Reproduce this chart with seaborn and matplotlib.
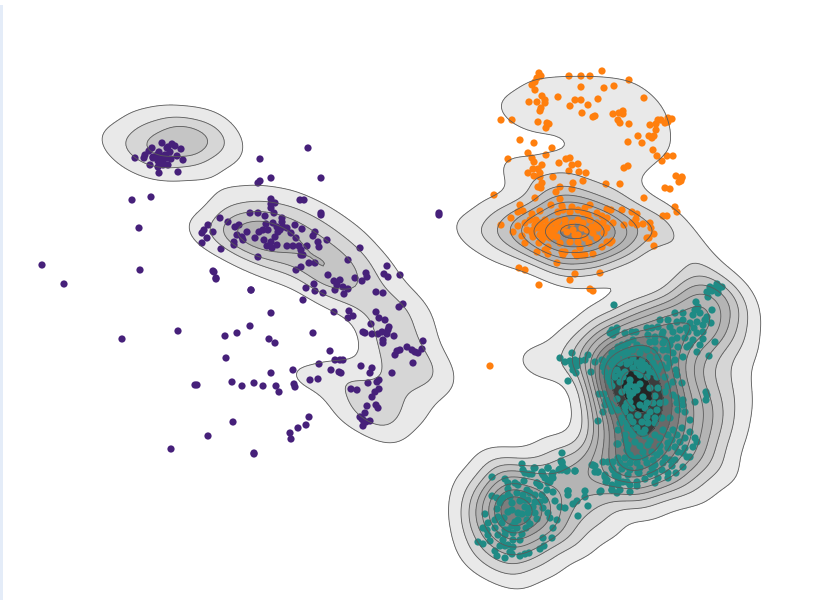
# cluster scatter over a density surface
import pandas as pd
import seaborn as sns
import matplotlib.pyplot as plt
from matplotlib.colors import ListedColormap

# ---------- data ----------
purple_pts = [
    (162,143),(172,144),(175,146),(181,149),(152,148),(149,151),(145,155),(144,158),(135,158),(153,157),
    (159,152),(167,148),(170,152),(165,155),(160,158),(158,161),(163,162),(168,165),(150,165),(158,167),
    (159,173),(178,172),(183,160),(177,156),(171,159),(167,158),(163,165),(168,147),(153,158),(162,157),(157,155),
    (260,159),(258,183),(260,181),(271,178),(132,200),(151,197),(139,228),(140,270),(42,265),(64,284),
    (308,148),(321,178),(214,272),(216,279),(251,290),
    (271,199),(275,203),(271,204),(271,208),(274,213),(250,213),(258,213),(265,216),(282,218),(220,218),
    (228,222),(208,225),(204,230),(202,233),(207,238),(213,232),(202,243),(221,249),(235,227),(239,225),
    (247,232),(237,235),(242,237),(243,240),(234,242),(234,245),(255,238),(259,232),(263,230),(266,224),
    (268,230),(273,223),(277,227),(280,230),(283,227),(287,228),(282,222),(278,232),(275,237),(264,240),
    (271,242),(267,246),(272,248),(277,245),(258,257),(287,246),(293,246),(299,246),(307,246),(301,250),
    (295,225),(302,229),(291,233),(296,238),(300,200),(304,200),(321,213),(321,215),(313,236),(315,232),
    (318,242),(319,247),(327,240),(360,248),(348,260),(301,255),(303,255),(309,263),(315,263),(301,267),
    (296,270),(328,275),(334,281),(340,280),(337,285),(335,290),(343,287),(348,289),(344,294),(314,284),
    (306,288),(315,291),(323,293),(303,300),(355,278),(362,281),(366,273),(367,277),(387,266),(384,274),
    (388,277),(400,275),(376,292),(383,293),(403,304),(399,307),(376,312),(334,312),(349,311),(353,316),
    (348,318),(379,318),(385,320),(371,324),(389,327),(388,330),(382,332),(378,334),(372,334),(363,332),
    (365,333),(387,334),(394,336),(383,340),(383,343),(313,333),(423,341),(407,347),(400,350),(397,351),
    (395,355),(412,350),(415,352),(418,353),(422,349),(413,363),(330,351),(335,360),(340,360),(343,360),
    (319,364),(361,366),(372,368),(370,373),(293,370),(331,370),(339,372),(341,373),(392,373),(271,373),
    (318,379),(310,380),(379,380),(377,382),(368,383),(294,384),(295,387),(276,386),(263,386),(254,383),
    (242,386),(232,382),(195,385),(197,385),(279,392),(351,389),(357,390),(379,389),(375,392),(372,397),
    (367,406),(376,405),(378,408),(360,417),(365,413),(363,420),(370,421),(366,422),(363,426),(362,419),
    (309,417),(306,425),(298,428),(290,433),(291,439),(233,422),(208,436),(213,271),(216,278),(251,290),
    (271,313),(250,326),(237,333),(225,336),(269,339),(275,343),(226,358),(439,213),(439,215),(178,331),
    (122,339),(171,449),(254,454),(254,453),
]

orange_pts = [
    (539,73),(541,76),(537,78),(535,82),(532,85),(535,90),(569,76),(581,76),(590,76),(602,71),(629,80),
    (614,86),(604,88),(581,87),(542,96),(558,97),(545,100),(545,103),(537,102),(529,102),(575,100),(581,100),
    (598,99),(644,98),(588,105),(570,106),(541,108),(540,111),(582,113),(593,117),(595,116),(613,114),
    (619,113),(623,111),(623,114),(618,120),(620,123),(629,124),(501,120),(512,120),(538,122),(547,123),
    (549,124),(546,128),(650,125),(656,124),(658,120),(661,120),(665,123),(668,118),(672,119),(668,122),
    (656,130),(638,136),(649,136),(654,136),(652,138),(642,143),(628,142),(520,140),(534,143),(552,148),
    (528,153),(546,155),(653,150),(657,156),(667,156),(673,156),(662,161),(508,159),(532,158),(534,162),
    (566,159),(570,158),(559,163),(578,164),(572,165),(533,169),(538,169),(542,165),(569,171),(579,172),
    (586,173),(624,168),(628,166),(528,173),(534,176),(540,173),(540,177),(553,177),(676,176),(682,177),
    (682,178),(681,181),(679,182),(542,183),(538,187),(541,188),(560,187),(573,183),(572,189),(583,181),
    (606,184),(620,184),(665,188),(670,189),(556,192),(494,195),(535,198),(560,199),(644,198),(675,207),
    (677,212),(663,216),(667,216),(490,366),
    (520,205),(518,212),(523,211),(511,218),(501,225),(513,232),(522,236),(525,243),(537,252),(519,268),
    (525,270),(557,263),(575,274),(570,280),(600,273),(539,285),(590,289),(593,291),(654,246),(622,210),
    (632,212),(637,214),(636,219),(624,225),(632,223),(637,225),(643,224),(650,223),(651,228),(654,234),
    (649,238),(647,238),(532,214),(540,211),(551,205),(562,206),(572,207),(590,205),(585,208),(607,209),
    (611,210),(558,212),(563,210),(570,212),(578,210),(583,212),(588,215),(597,213),(602,216),(607,218),
    (613,223),(530,220),(525,223),(518,226),(527,230),(532,233),(536,220),(540,223),(545,220),(548,225),
    (553,222),(558,221),(565,220),(572,223),(578,220),(583,223),(590,220),(597,223),(603,223),(607,228),
    (533,230),(538,228),(543,227),(547,230),(550,233),(555,230),(562,228),(567,232),(573,230),(578,235),
    (585,238),(593,233),(598,228),(604,233),(533,237),(540,235),(545,237),(550,238),(557,237),(539,243),
    (560,243),(570,242),(578,242),(589,243),(597,238),(607,242),(612,241),(610,243),(602,247),(548,247),
    (545,250),(548,254),(562,252),(565,252),(563,255),(575,253),(580,248),(582,255),(577,256),(585,255),
    (593,254),(543,232),(542,240),(553,235),(547,234),(535,225),(550,228),(557,227),(565,225),(582,228),
    (587,230),(592,227),(575,235),
]

teal_pts = [
    (717,284),(722,287),(710,287),(715,288),(718,290),(712,291),(708,297),(707,292),(718,293),(614,305),
    (696,302),(698,307),(695,310),(712,310),(675,313),(683,313),(693,315),(700,313),(707,317),(677,322),
    (683,320),(690,323),(697,322),(703,325),(711,323),(670,327),(658,327),(647,328),(652,328),(663,332),
    (673,332),(680,330),(688,332),(697,333),(703,332),(648,335),(655,337),(662,335),(677,338),(685,338),
    (693,340),(703,339),(715,342),(650,342),(663,343),(670,345),(678,347),(687,347),(668,350),(673,353),
    (683,357),(697,352),(709,356),(612,330),(617,328),(610,333),(613,335),(616,332),(625,333),(632,332),
    (636,332),(560,358),(572,353),(588,355),(585,360),(565,362),(570,361),(575,360),(580,361),(572,365),
    (577,366),(573,370),(576,373),(568,381),(591,372),(633,340),(628,343),(637,345),(618,347),(625,348),
    (633,350),(612,353),(617,352),(622,353),(628,353),(640,353),(647,350),(655,350),(663,350),(595,362),
    (602,360),(610,358),(617,358),(625,359),(633,358),(642,360),(650,357),(658,357),(667,358),(675,360),
    (603,367),(612,365),(620,363),(627,364),(637,363),(645,365),(653,363),(662,365),(670,363),(605,372),
    (617,370),(625,372),(633,368),(642,370),(650,372),(658,370),(667,368),(676,370),(607,377),(615,377),
    (623,377),(640,375),(647,377),(657,377),(665,377),(677,375),(630,380),(620,382),(610,382),(673,382),
    (682,383),(630,385),(635,387),(627,388),(658,388),(629,392),(633,393),(630,396),(637,390),(599,394),
    (604,394),(643,397),(606,400),(605,405),(617,399),(627,403),(630,402),(625,407),(612,407),(610,404),
    (647,403),(653,403),(660,403),(665,402),(673,395),(677,398),(683,400),(677,403),(683,405),(695,402),
    (706,392),(707,395),(706,400),(685,412),(678,410),(603,412),(612,411),(645,408),(650,412),(657,410),
    (625,412),(598,421),(622,418),(630,417),(638,415),(647,417),(655,418),(662,418),(670,418),(690,420),
    (620,423),(627,423),(633,422),(642,422),(648,423),(655,423),(627,428),(637,428),(645,430),(655,435),
    (663,430),(673,430),(682,428),(690,432),(625,435),(633,435),(640,433),(668,435),(677,435),(685,438),
    (695,438),(697,442),(625,440),(635,442),(617,444),(628,445),(660,446),(668,443),(675,447),(685,448),
    (693,447),(668,448),(627,450),(643,452),(652,452),(657,455),(683,453),(690,457),(687,457),(618,458),
    (625,458),(632,458),(638,458),(645,458),(653,460),(665,458),(675,460),(670,460),(603,462),(608,462),
    (613,462),(620,463),(630,463),(637,463),(647,463),(655,465),(663,463),(592,465),(595,466),(672,466),
    (683,467),(652,468),(595,472),(598,472),(622,469),(639,473),(662,470),(668,473),(676,473),(605,475),
    (615,475),(628,475),(645,479),(668,478),(658,478),(607,480),(618,478),(623,482),(637,482),(655,483),
    (612,485),(618,485),(630,485),(637,486),(612,490),(620,490),(617,493),(600,492),(585,491),(568,491),
    (562,453),(561,461),(562,463),(563,468),(562,470),(567,470),(559,470),(575,471),(535,468),(548,468),
    (542,473),(552,475),(532,474),(545,478),(550,482),(553,478),(537,483),
    (522,464),(534,468),(523,470),(525,473),(529,474),(492,477),(542,472),(548,468),(553,473),(562,462),
    (563,467),(560,469),(567,471),(575,471),(550,480),(548,483),(543,475),(505,479),(508,483),(524,481),
    (515,483),(518,485),(537,483),(540,486),(508,489),(527,490),(547,490),(553,492),(568,491),(568,495),
    (585,497),(577,501),(573,504),(588,506),(578,516),(492,496),(497,498),(503,498),(508,495),(517,493),
    (523,495),(530,493),(535,495),(542,495),(500,503),(512,503),(520,501),(528,500),(540,502),(555,501),
    (560,507),(565,508),(497,509),(512,510),(525,507),(533,507),(543,508),(485,514),(498,517),(518,513),
    (528,513),(535,513),(504,518),(518,520),(527,520),(537,519),(550,518),(557,520),(488,523),(502,523),
    (483,528),(487,530),(508,530),(517,528),(526,528),(553,528),(488,535),(513,533),(522,534),(498,535),
    (478,542),(483,544),(490,541),(503,540),(513,540),(543,538),(552,538),(505,546),(513,547),(495,551),
    (510,552),(540,549),(544,546),(497,556),(505,558),(512,554),(520,556),(525,554),(529,553),
    (593,465),(598,472),(601,491),(605,477),(606,482),(613,470),(618,475),(612,490),(618,482),(627,482),
    (630,492),(638,472),(618,444),
    # denser parts of the teal cloud
    (622,345),(642,348),(606,362),(615,362),(630,362),(640,366),(648,368),(655,367),(612,372),(620,374),
    (637,372),(655,373),(612,386),(622,392),(640,384),(650,388),(668,386),(665,392),(655,396),(618,410),
    (632,408),(640,405),(618,430),(632,430),(645,436),(650,441),(660,438),(672,440),(680,442),(640,446),
    (648,445),(630,455),(660,452),(678,452),(640,468),(630,470),(612,468),(650,474),(655,472),(625,466),
    (665,340),(672,340),(690,345),(660,320),(668,320),(686,328),(694,328),(705,320),(700,345),(655,342),
    (510,497),(525,500),(535,502),(508,512),(522,514),(515,522),(530,524),(505,530),(512,526),(495,528),
    (520,540),(505,535),(530,508),(545,500),(548,513),(495,520),(508,545),(500,546),
]

# height of the density surface (x, y, height)
surface_pts = [
    # top left blob
    (112,143,1.0),(135,143,1.7),(160,143,2.6),(190,142,4.0),(220,143,2.2),(175,125,1.9),(205,125,1.3),(145,125,1.1),
    (160,161,2.0),(190,161,1.5),(135,161,1.0),(222,125,0.5),
    # purple band
    (235,197,0.6),(265,197,0.9),(295,197,0.6),(235,215,1.7),(265,215,1.9),(295,215,1.5),(325,215,0.9),
    (205,233,1.7),(235,233,3.8),(265,233,4.2),(295,233,2.7),(325,233,1.5),(355,233,0.7),
    (240,251,1.2),(265,251,2.6),(295,251,2.5),(325,251,2.2),(355,251,1.4),(385,265,0.8),
    (270,269,0.6),(295,269,1.6),(325,269,3.3),(355,269,2.1),
    (325,287,2.2),(355,287,1.8),(385,287,1.1),(355,305,1.4),(385,305,1.4),(410,305,1.2),(385,323,1.7),(415,323,1.2),
    (385,341,1.9),(415,341,1.4),(385,359,1.4),(415,359,1.4),(435,365,1.0),(300,377,1.2),(330,377,1.3),(355,377,1.3),(385,377,1.2),(415,377,1.5),(435,380,1.0),
    (355,395,1.4),(385,395,1.2),(412,395,1.2),(345,413,0.8),(365,413,1.4),(385,413,1.8),(410,413,0.9),(385,431,1.2),
    # orange peak
    (470,232,1.5),(500,232,2.6),(530,232,5.0),(560,232,7.0),(590,232,7.0),(620,232,5.0),(650,232,3.0),
    (530,214,2.5),(560,214,4.5),(590,214,4.5),(620,214,2.5),(530,250,2.5),(560,250,4.5),(590,250,4.5),(620,250,2.5),
    (560,196,2.5),(590,196,1.5),(570,178,1.2),(560,268,2.0),(590,268,1.2),(500,250,1.2),(500,214,1.2),
    # orange upper lobe
    (540,90,1.0),(570,90,1.2),(600,90,1.2),(630,90,1.0),(505,110,0.8),(530,108,1.2),(560,108,1.0),(590,108,1.1),(620,108,1.1),(650,108,1.0),
    (530,118,0.9),(560,118,0.8),(590,126,1.1),(620,126,1.1),(650,126,1.2),(600,144,1.0),(630,144,1.1),(655,144,1.0),
    (515,170,1.1),(550,168,1.0),(580,162,1.0),(610,162,1.0),(635,162,0.9),(530,180,1.1),(610,180,1.0),(625,196,1.0),
    # link between orange and teal
    (660,215,1.5),(680,235,1.2),(695,255,1.2),(700,272,1.3),(680,288,1.2),
    # teal
    (700,290,3.0),(725,290,2.5),(640,308,1.5),(670,308,3.0),(700,308,5.0),(730,308,3.0),
    (610,326,2.0),(640,326,4.0),(670,326,6.0),(700,326,6.0),(730,326,2.0),
    (580,344,1.5),(610,344,5.0),(640,344,7.0),(670,344,6.0),(700,344,3.0),(735,344,1.5),
    (530,365,1.0),(550,362,1.5),(580,362,2.5),(610,362,7.0),(640,362,8.0),(670,362,5.0),(700,362,2.0),(730,362,1.0),
    (610,380,8.0),(640,380,10.0),(670,380,5.5),(700,380,2.0),(730,380,1.2),
    (610,398,7.0),(640,398,10.5),(670,398,6.0),(700,398,3.0),(730,398,1.5),
    (610,416,5.0),(640,416,8.5),(670,416,6.0),(700,416,3.0),(725,416,1.5),
    (610,434,4.5),(640,434,8.0),(670,434,5.5),(700,434,3.0),(725,434,1.0),
    (560,452,1.5),(600,452,3.5),(630,452,7.5),(660,452,6.0),(690,452,3.5),(715,452,1.0),
    (500,470,1.5),(510,470,1.8),(540,470,2.0),(570,470,3.0),(600,470,4.5),(630,470,7.0),(660,470,4.5),(690,470,2.0),(720,470,1.2),
    (480,488,1.5),(510,488,4.5),(540,488,4.0),(570,488,3.0),(600,488,3.0),(630,488,3.0),(660,488,2.0),(690,488,1.4),
    (480,506,2.5),(510,506,8.5),(540,506,5.5),(570,506,2.5),(600,506,1.5),(640,506,1.2),
    (480,524,3.0),(510,524,7.0),(540,524,4.5),(570,524,1.5),(600,524,1.4),
    (480,542,2.0),(510,542,4.0),(540,542,2.0),(570,540,1.8),(480,560,1.5),(510,560,2.0),(540,560,1.5),(510,575,1.3),
]

band_levels = [0.05, 0.20, 0.33, 0.44, 0.54, 0.63, 0.71, 0.79, 0.86, 0.92, 0.97, 1.0]
band_colors = ['#e9e9e9', '#d6d6d6', '#c5c5c5', '#b4b4b4', '#a3a3a3', '#919191',
               '#7d7d7d', '#696969', '#525252', '#3c3c3c', '#242424']
cluster_colors = {'a': '#46207a', 'b': '#ff7f0e', 'c': '#1f8b85'}

# ---------- tables ----------
surface = pd.DataFrame(surface_pts, columns=['x', 'y', 'h'])
points = pd.concat([
    pd.DataFrame(purple_pts, columns=['x', 'y']).assign(cluster='a'),
    pd.DataFrame(orange_pts, columns=['x', 'y']).assign(cluster='b'),
    pd.DataFrame(teal_pts, columns=['x', 'y']).assign(cluster='c'),
])

# ---------- figure ----------
sns.set_theme(style='white')
fig = plt.figure(figsize=(8.3, 6), dpi=100)
ax = fig.add_axes([0, 0, 1, 1])

sns.kdeplot(data=surface, x='x', y='y', weights='h', bw_method=0.135, gridsize=250, cut=4,
            levels=band_levels, fill=True, cmap=ListedColormap(band_colors), ax=ax)
sns.kdeplot(data=surface, x='x', y='y', weights='h', bw_method=0.135, gridsize=250, cut=4,
            levels=band_levels[:-1], colors='#5a5a5a', linewidths=0.6, ax=ax)
sns.scatterplot(data=points, x='x', y='y', hue='cluster', palette=cluster_colors,
                s=27, linewidth=0, legend=False, ax=ax)

ax.axvspan(0, 2.5, ymin=0, ymax=595 / 600, color='#e4ecf8', lw=0)
ax.set_xlim(0, 830)
ax.set_ylim(600, 0)
ax.axis('off')

fig.savefig('out.png', dpi=100)
